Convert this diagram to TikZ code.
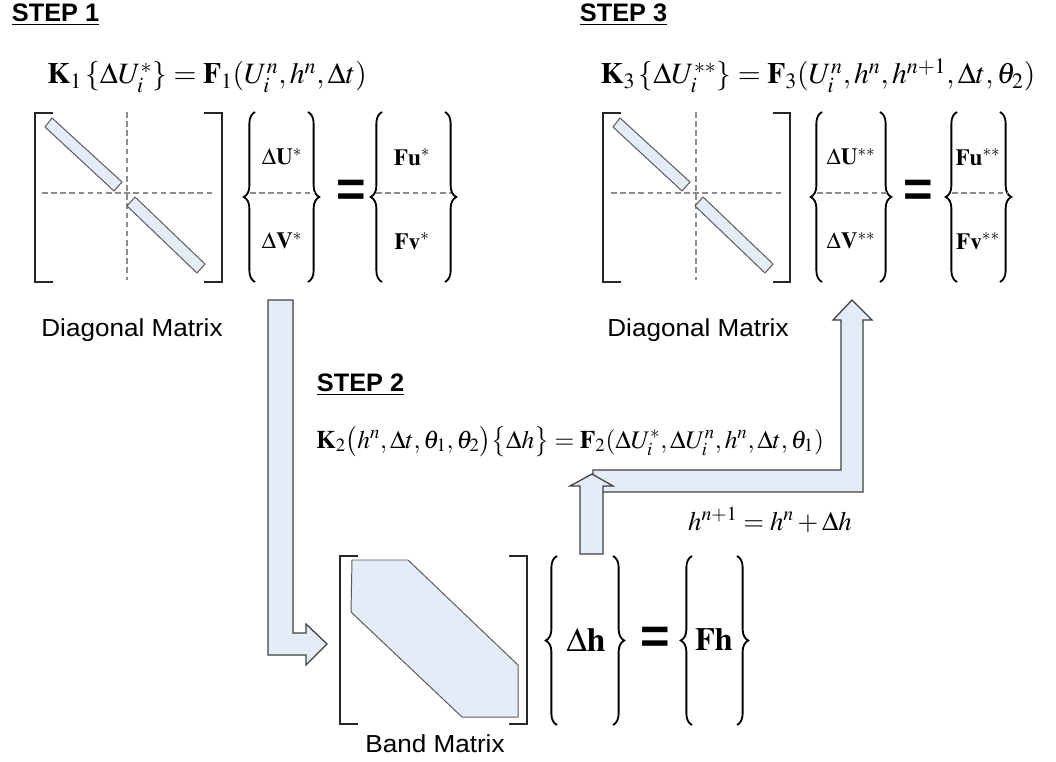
\documentclass[tikz,border=0pt]{standalone}
\usepackage{mathptmx}
\usepackage[no-math]{fontspec}
\setsansfont{Liberation Sans}
\usetikzlibrary{decorations.pathreplacing}
\definecolor{bandblue}{RGB}{228,236,247}
\definecolor{edgegray}{RGB}{90,90,90}
\tikzset{
  bracket/.style={line width=1.8pt, black!85, line cap=rect},
  gridline/.style={gray!90, line width=0.8pt, dash pattern=on 4pt off 2.5pt},
  bar/.style={fill=bandblue, draw=edgegray, line width=0.7pt},
  blockarrow/.style={fill=bandblue, draw=black!75, line width=0.9pt, line join=miter},
  curly/.style={decorate, decoration={brace, amplitude=8pt}, line width=1.3pt},
  steplabel/.style={font=\fontsize{18}{21}\selectfont\sffamily\bfseries, anchor=west},
  matlabel/.style={font=\fontsize{17.5}{20}\selectfont\sffamily},
  bigeq/.style={font=\fontsize{21}{24}\selectfont},
  smalleq/.style={font=\fontsize{18}{21}\selectfont},
  entry/.style={font=\fontsize{16.5}{19}\selectfont},
  equalsign/.style={font=\fontsize{36}{36}\selectfont\sffamily\bfseries}
}
\begin{document}
\begin{tikzpicture}[x=0.025cm, y=-0.025cm]
\useasboundingbox (0,0) rectangle (1056,761);

\node[steplabel] (step1) at (7,15) {\underline{STEP 1}};
\node[steplabel] (step3) at (575,15) {\underline{STEP 3}};
\node[steplabel] (step2) at (312,385) {\underline{STEP 2}};

\node[bigeq, anchor=base] (eqone) at (207,84) {$\mathbf{K}_1\left\{\Delta U_i^{*}\right\} = \mathbf{F}_1(U_i^{n}, h^{n}, \Delta t)$};
\node[bigeq, anchor=base] (eqthree) at (818,84) {$\mathbf{K}_3\left\{\Delta U_i^{**}\right\} = \mathbf{F}_3(U_i^{n}, h^{n}, h^{n+1}, \Delta t, \theta_2)$};
\node[smalleq, anchor=base] (eqtwo) at (570,448) {$\mathbf{K}_2\bigl(h^{n}, \Delta t, \theta_1, \theta_2\bigr)\bigl\{\Delta h\bigr\} = \mathbf{F}_2(\Delta U_i^{*}, \Delta U_i^{n}, h^{n}, \Delta t, \theta_1)$};

% step 1 matrix
\draw[bracket] (52,113) -- (35,113) -- (35,282) -- (52,282);
\draw[bracket] (205,113) -- (222,113) -- (222,282) -- (205,282);
\draw[gridline] (127,112) -- (127,280);
\draw[gridline] (42,193) -- (212,193);
\draw[bar] (45,127) -- (52,118) -- (122,182) -- (114,191) -- cycle;
\draw[bar] (127,206) -- (135,197) -- (205,264) -- (197,273) -- cycle;

\draw[curly] (255,282) -- (255,112);
\draw[curly] (308,112) -- (308,282);
\draw[gridline] (250,193) -- (315,193);
\node[entry] (dU1) at (282,157) {$\Delta\mathbf{U}^{*}$};
\node[entry] (dV1) at (282,241) {$\Delta\mathbf{V}^{*}$};
\node[equalsign] (eq1) at (351,193) {=};
\draw[curly] (382,282) -- (382,112);
\draw[curly] (445,112) -- (445,282);
\draw[gridline] (376,193) -- (451,193);
\node[entry] (Fu1) at (412,157) {$\mathbf{Fu}^{*}$};
\node[entry] (Fv1) at (412,241) {$\mathbf{Fv}^{*}$};
\node[matlabel] (diag1) at (132,330) {\scalebox{1.06}[1]{Diagonal Matrix}};

% step 3 matrix
\draw[bracket] (620,113) -- (603,113) -- (603,282) -- (620,282);
\draw[bracket] (774,113) -- (790,113) -- (790,282) -- (774,282);
\draw[gridline] (696,112) -- (696,280);
\draw[gridline] (611,193) -- (781,193);
\draw[bar] (613,127) -- (620,118) -- (690,182) -- (682,191) -- cycle;
\draw[bar] (695,206) -- (703,197) -- (773,264) -- (765,273) -- cycle;

\draw[curly] (822,282) -- (822,112);
\draw[curly] (880,112) -- (880,282);
\draw[gridline] (817,193) -- (887,193);
\node[entry] (dU3) at (851,157) {$\Delta\mathbf{U}^{**}$};
\node[entry] (dV3) at (851,241) {$\Delta\mathbf{V}^{**}$};
\node[equalsign] (eq3) at (918,193) {=};
\draw[curly] (957,282) -- (957,112);
\draw[curly] (1000,112) -- (1000,282);
\draw[gridline] (952,193) -- (1007,193);
\node[entry] (Fu3) at (978,157) {$\mathbf{Fu}^{**}$};
\node[entry] (Fv3) at (978,241) {$\mathbf{Fv}^{**}$};
\node[matlabel] (diag3) at (698,330) {\scalebox{1.06}[1]{Diagonal Matrix}};

% step 2 band matrix
\draw[bracket] (357,556) -- (340,556) -- (340,724) -- (357,724);
\draw[bracket] (510,556) -- (527,556) -- (527,724) -- (510,724);
\draw[bar] (352,560) -- (408,560) -- (518,665) -- (518,717) -- (462,717) -- (351,612) -- cycle;
\node[matlabel] (band) at (435,744) {\scalebox{1.06}[1]{Band Matrix}};

\draw[curly] (557,725) -- (557,556);
\draw[curly] (613,556) -- (613,725);
\node[bigeq, font=\fontsize{24}{27}\selectfont] (dh) at (586,640) {$\Delta\mathbf{h}$};
\node[equalsign] (eq2) at (655,640) {=};
\draw[curly] (692,725) -- (692,556);
\draw[curly] (737,556) -- (737,725);
\node[bigeq, font=\fontsize{23}{26}\selectfont] (Fh) at (714,640) {$\mathbf{Fh}$};

\node[smalleq, font=\fontsize{19}{22}\selectfont, anchor=base] (update) at (770,530) {$h^{n+1} = h^{n} + \Delta h$};

% block arrows
\draw[blockarrow] (268,300) -- (293,300) -- (293,633) -- (306,633) -- (306,624) -- (327,644) -- (306,665) -- (306,655) -- (268,655) -- cycle;
\draw[blockarrow] (593,470) -- (841,470) -- (841,320) -- (833,320) -- (852,300) -- (872,320) -- (863,320) -- (863,492) -- (593,492) -- cycle;
\draw[blockarrow] (580,554) -- (580,486) -- (570,486) -- (592,474) -- (613,486) -- (603,486) -- (603,554) -- cycle;
\end{tikzpicture}
\end{document}
